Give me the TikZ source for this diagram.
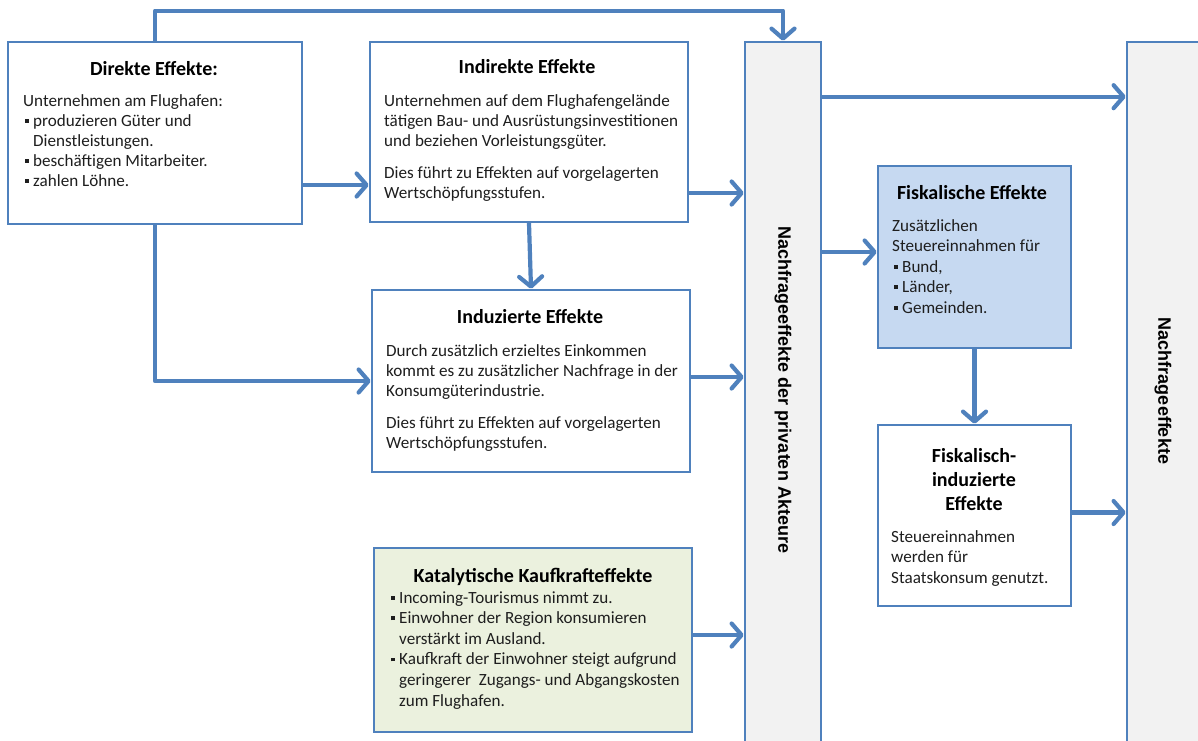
\documentclass[tikz,border=0pt]{standalone}
\usepackage{fontspec}
\setmainfont{Carlito}
\newfontfamily\barfont{Liberation Sans}
\usetikzlibrary{arrows.meta}
\definecolor{bblue}{HTML}{4F81BD}
\definecolor{bargray}{HTML}{F2F2F2}
\definecolor{fiskblue}{HTML}{C6D9F1}
\definecolor{katgreen}{HTML}{EBF1DE}
\definecolor{bodytext}{HTML}{1E1E1E}
\newcommand{\bul}{\makebox[10pt][l]{\hspace{1.5pt}\rule[0.2em]{3.8pt}{3.8pt}}}
\tikzset{
  box/.style={draw=bblue, line width=2.6pt, fill=white, inner sep=0pt},
  bar/.style={box, fill=bargray},
  arr/.style={draw=bblue, line width=4.2pt, line cap=round, line join=round,
    -{Straight Barb[length=10pt,width=23pt,round]}},
  title/.style={font=\fontsize{20}{24}\selectfont\bfseries, text=black, anchor=base, align=center, inner sep=0pt},
  body/.style={font=\fontsize{17.1}{20}\selectfont, text=bodytext, anchor=base west, align=left, inner sep=0pt},
  bartext/.style={font=\barfont\fontsize{18}{22}\selectfont\bfseries, text=black, rotate=-90, inner sep=0pt},
}
\begin{document}
\begin{tikzpicture}[x=1pt,y=-1pt]
\useasboundingbox (0,0) rectangle (1198,740);
\clip (0,0) rectangle (1198,740);
% boxes
\node[box, minimum width=294pt, minimum height=182pt] (dir) at (155,133) {};
\node[box, minimum width=318pt, minimum height=180pt] (indir) at (529,132) {};
\node[box, minimum width=318pt, minimum height=182pt] (indu) at (531,381) {};
\node[box, fill=katgreen, minimum width=318pt, minimum height=184pt] (kat) at (533,640) {};
\node[bar, minimum width=76pt, minimum height=706pt] (priv) at (783,395) {};
\node[box, fill=fiskblue, minimum width=193pt, minimum height=182pt] (fisk) at (974.5,257) {};
\node[box, minimum width=193pt, minimum height=181pt] (fiskind) at (974.5,515.5) {};
\node[bar, minimum width=76pt, minimum height=706pt] (nach) at (1165,395) {};
% bar labels
\node[bartext] (privlabel) at (783,390) {Nachfrageeffekte der privaten Akteure};
\node[bartext] (nachlabel) at (1163,391) {Nachfrageeffekte};
% Direkte (anchor = baseline of last line)
\node[title] (dirt) at (154,75) {Direkte Effekte:};
\node[body] (dirb) at (23,186) {Unternehmen am Flughafen:\\
\bul produzieren Güter und\\
\hspace*{10pt}Dienstleistungen.\\
\bul beschäftigen Mitarbeiter.\\
\bul zahlen Löhne.};
% Indirekte
\node[title] (indirt) at (527,73) {Indirekte Effekte};
\node[body] (indirb) at (384,198) {Unternehmen auf dem Flughafengelände\\
tätigen Bau- und Ausrüstungsinvestitionen\\
und beziehen Vorleistungsgüter.\\[12pt]
Dies führt zu Effekten auf vorgelagerten\\
Wertschöpfungsstufen.};
% Induzierte
\node[title] (indut) at (530,323) {Induzierte Effekte};
\node[body] (indub) at (386,448) {Durch zusätzlich erzieltes Einkommen\\
kommt es zu zusätzlicher Nachfrage in der\\
Konsumgüterindustrie.\\[12pt]
Dies führt zu Effekten auf vorgelagerten\\
Wertschöpfungsstufen.};
% Katalytische
\node[title] (katt) at (533,582) {Katalytische Kaufkrafteffekte};
\node[body, font=\fontsize{17.1}{20.6}\selectfont] (katb) at (389,706) {\bul Incoming-Tourismus nimmt zu.\\
\bul Einwohner der Region konsumieren\\
\hspace*{10pt}verstärkt im Ausland.\\
\bul Kaufkraft der Einwohner steigt aufgrund\\
\hspace*{10pt}geringerer\ \ Zugangs- und Abgangskosten\\
\hspace*{10pt}zum Flughafen.};
% Fiskalische
\node[title] (fiskt) at (972,199) {Fiskalische Effekte};
\node[body, font=\fontsize{17.1}{20.5}\selectfont] (fiskb) at (892,313) {Zusätzlichen\\
Steuereinnahmen für\\
\bul Bund,\\
\bul Länder,\\
\bul Gemeinden.};
% Fiskalisch-induzierte
\node[title] (fiskindt) at (974,510) {Fiskalisch-\\induzierte\\Effekte};
\node[body, font=\fontsize{17.1}{20.5}\selectfont] (fiskindb) at (891,583) {Steuereinnahmen\\
werden für\\
Staatskonsum genutzt.};
% connectors
\draw[arr] (dir.north) -- ++(0,-30) -| (priv.north);
\draw[arr] ([yshift=-52pt]dir.east) -- ([yshift=-52pt]dir.east -| indir.west);
\draw[arr] (dir.south) |- (indu.west);
\draw[arr] ([yshift=-61pt]indir.east) -- ([yshift=-61pt]indir.east -| priv.west);
\draw[arr] (indir.south) -- (indu.north);
\draw[arr] ([yshift=4pt]indu.east) -- ([yshift=4pt]indu.east -| priv.west);
\draw[arr] ([yshift=5pt]kat.east) -- ([yshift=5pt]kat.east -| priv.west);
\draw[arr] ([yshift=-56pt]priv.north east) -- ([yshift=-56pt]priv.north east -| nach.west);
\draw[arr] ([yshift=5pt]fisk.west -| priv.east) -- ([yshift=5pt]fisk.west);
\draw[arr] (fisk.south) -- (fiskind.north);
\draw[arr] ([yshift=3pt]fiskind.east) -- ([yshift=3pt]fiskind.east -| nach.west);
\end{tikzpicture}
\end{document}
